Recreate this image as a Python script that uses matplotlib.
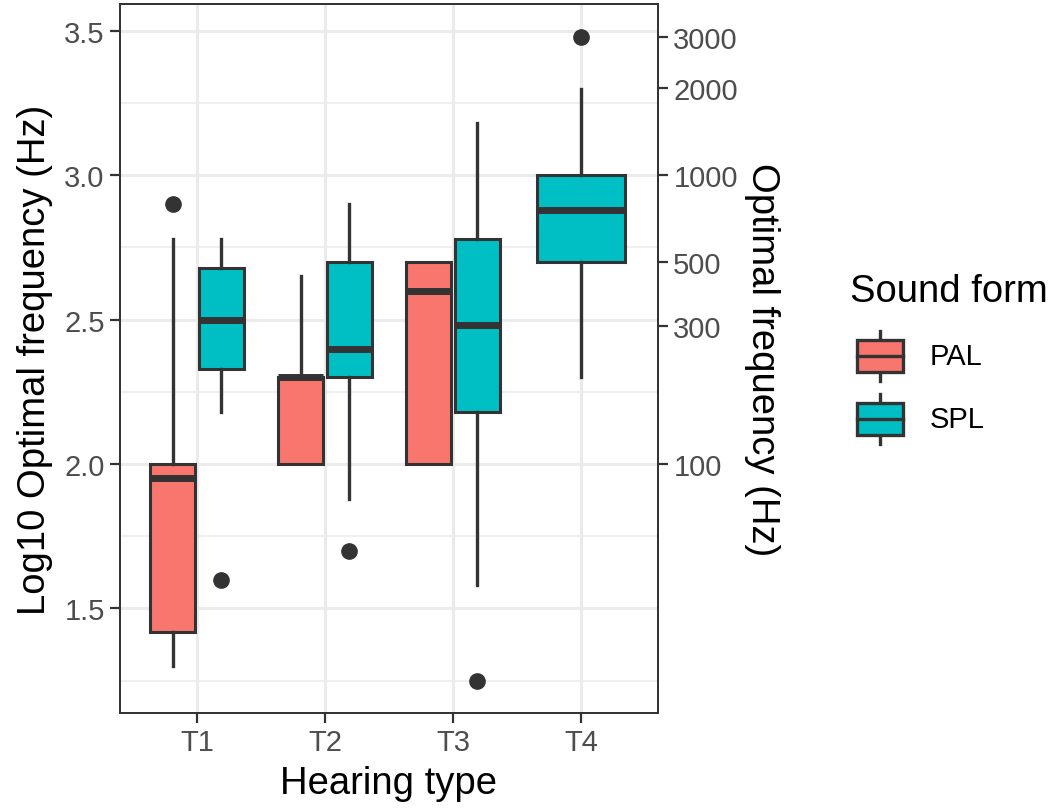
import numpy as np
import matplotlib
matplotlib.use("Agg")
import matplotlib.pyplot as plt
from matplotlib.patches import Rectangle

plt.rcParams["font.family"] = ["Liberation Sans", "DejaVu Sans"]

categories = ["T1", "T2", "T3", "T4"]
series = ["PAL", "SPL"]
colors = {"PAL": "#F8766D", "SPL": "#00BFC4"}

# log10 optimal frequency, box stats per hearing type
pal_types = ["T1", "T2", "T3"]
pal_whislo = [1.30, 2.00, 2.00]
pal_q1 = [1.42, 2.00, 2.00]
pal_med = [1.95, 2.30, 2.60]
pal_q3 = [2.00, 2.30, 2.70]
pal_whishi = [2.78, 2.65, 2.70]
pal_fliers = [[2.90], [], []]

spl_types = ["T1", "T2", "T3", "T4"]
spl_whislo = [2.18, 1.88, 1.58, 2.30]
spl_q1 = [2.33, 2.30, 2.18, 2.70]
spl_med = [2.50, 2.40, 2.48, 2.88]
spl_q3 = [2.68, 2.70, 2.78, 3.00]
spl_whishi = [2.78, 2.90, 3.18, 3.30]
spl_fliers = [[1.60], [1.70], [1.25], [3.48]]

freq_ticks = [100, 300, 500, 1000, 2000, 3000]

fig = plt.figure(figsize=(10.54, 8.12), dpi=100)
ax = fig.add_axes([120 / 1054, 1 - 714 / 812, 538 / 1054, 709 / 812])

edge = "#333333"


def draw(types, whislo, q1, med, q3, whishi, fliers, name, other):
    stats, pos, wid = [], [], []
    for i, t in enumerate(types):
        stats.append(dict(whislo=whislo[i], q1=q1[i], med=med[i], q3=q3[i],
                          whishi=whishi[i], fliers=fliers[i]))
        x = categories.index(t) + 1
        if t in other:
            off = -0.19 if name == "PAL" else 0.19
            pos.append(x + off)
            wid.append(0.35)
        else:
            pos.append(x)
            wid.append(0.69)
    ax.bxp(stats, positions=pos, widths=wid, patch_artist=True, showcaps=False,
           boxprops=dict(facecolor=colors[name], edgecolor=edge, linewidth=2.2),
           medianprops=dict(color=edge, linewidth=5.0, solid_capstyle="butt"),
           whiskerprops=dict(color=edge, linewidth=2.4),
           flierprops=dict(marker="o", markerfacecolor=edge, markeredgecolor=edge,
                           markersize=11),
           manage_ticks=False, zorder=3)


draw(pal_types, pal_whislo, pal_q1, pal_med, pal_q3, pal_whishi, pal_fliers, "PAL", spl_types)
draw(spl_types, spl_whislo, spl_q1, spl_med, spl_q3, spl_whishi, spl_fliers, "SPL", pal_types)

ax.set_xlim(0.4, 4.6)
ax.set_ylim(1.138, 3.593)
ax.set_xticks(range(1, 5))
ax.set_xticklabels(categories)
ax.set_yticks([1.5, 2.0, 2.5, 3.0, 3.5])
ax.set_yticks([1.25, 1.75, 2.25, 2.75, 3.25], minor=True)
ax.grid(True, which="major", color="#EBEBEB", linewidth=2.2, zorder=0)
ax.grid(True, which="minor", axis="y", color="#EBEBEB", linewidth=1.1, zorder=0)
ax.set_axisbelow(True)
ax.tick_params(which="major", length=7, width=1.6, color="#333333",
               labelsize=21, labelcolor="#4D4D4D", pad=4)
ax.tick_params(which="minor", length=0)
for s in ax.spines.values():
    s.set_color("#333333")
    s.set_linewidth(1.3)
ax.set_xlabel("Hearing type", fontsize=27.5, labelpad=6)
ax.set_ylabel("Log10 Optimal frequency (Hz)", fontsize=27.5, labelpad=8)

ax2 = ax.twinx()
ax2.set_ylim(ax.get_ylim())
ax2.set_yticks(np.log10(freq_ticks))
ax2.set_yticklabels([str(f) for f in freq_ticks])
ax2.tick_params(length=7, width=1.6, color="#333333", labelsize=21,
                labelcolor="#4D4D4D", pad=4)
for s in ax2.spines.values():
    s.set_color("#333333")
    s.set_linewidth(1.3)
ax2.set_ylabel("Optimal frequency (Hz)", fontsize=27.5, rotation=-90, labelpad=30)

# legend drawn in pixel coordinates
lg = fig.add_axes([0, 0, 1, 1])
lg.set_xlim(0, 1054)
lg.set_ylim(812, 0)
lg.axis("off")
lg.text(850, 292, "Sound form", fontsize=27.5, va="center", ha="left")
for name, yc in zip(series, [357, 420]):
    lg.plot([880, 880], [yc - 25, yc + 25], color=edge, lw=2.4)
    lg.add_patch(Rectangle((857, yc - 16), 46, 32, facecolor=colors[name],
                           edgecolor=edge, lw=2.4, zorder=3))
    lg.plot([857, 903], [yc, yc], color=edge, lw=2.4, zorder=4)
    lg.text(930, yc, name, fontsize=21, va="center", ha="left")

fig.savefig("out.png", dpi=100)
